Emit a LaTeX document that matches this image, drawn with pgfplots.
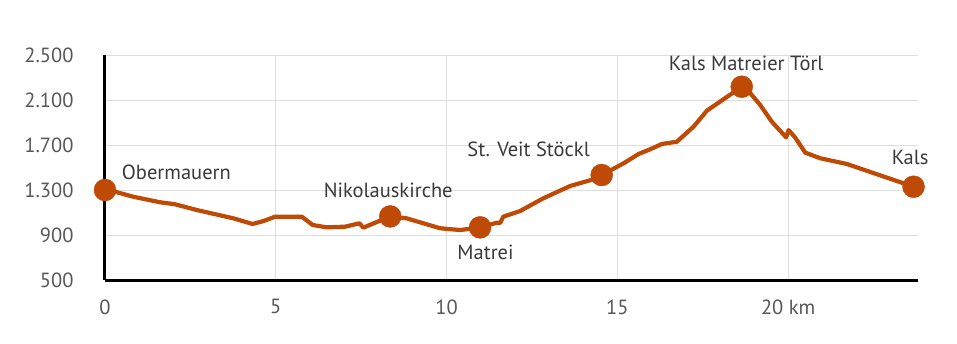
\documentclass[border=0pt]{standalone}
\usepackage{pgfplots}
\pgfplotsset{compat=1.18}
\usepackage{fontspec}
\setmainfont{PT Sans}
\definecolor{route}{HTML}{BF4A06}
\definecolor{gridc}{HTML}{DEDEDE}
\definecolor{txt}{HTML}{3A3A3A}
\tikzset{lbl/.style={txt, anchor=base, inner sep=0pt, font=\fontsize{20.5}{24}\selectfont}}
\begin{document}
\begin{tikzpicture}[x=1pt,y=1pt]
\path[use as bounding box] (-105,-63) rectangle (852,280);
\begin{axis}[
  scale only axis, width=813pt, height=225pt,
  xmin=0, xmax=23.8, ymin=500, ymax=2500,
  axis x line=bottom, axis y line=left,
  axis line style={line width=3pt, -},
  xtick={0,5,10,15,20}, xticklabels={0,5,10,15,20 km},
  ytick={500,900,1300,1700,2100,2500},
  yticklabels={500,900,1.300,1.700,2.100,2.500},
  major tick length=0pt,
  grid=major, grid style={gridc, line width=0.8pt},
  tick label style={font=\fontsize{20.5}{24}\selectfont, text=txt!85},
  yticklabel style={xshift=-28pt},
  xticklabel style={yshift=-16pt},
  clip=false,
]
\addplot[route, line width=4.2pt, line join=round, no marks] coordinates {
(0,1300) (0.29,1285) (0.83,1240) (1.61,1191) (2.05,1173) (2.69,1122)
(3.76,1048) (4.32,998) (4.64,1024) (4.98,1063) (5.76,1063) (6.08,989)
(6.49,968) (7.03,974) (7.45,1004) (7.56,965) (8.05,1027) (8.35,1065)
(8.83,1048) (9.81,960) (10.40,944) (10.98,968) (11.47,1009) (11.57,1009)
(11.66,1063) (12.15,1113) (12.83,1226) (13.62,1336) (14.30,1395) (14.54,1433)
(15.18,1537) (15.62,1620) (15.96,1662) (16.30,1709) (16.74,1729) (17.23,1863)
(17.62,2005) (18.64,2218) (18.89,2160) (19.18,2056) (19.52,1907) (19.94,1768)
(20.01,1833) (20.20,1768) (20.50,1632) (20.94,1582) (21.72,1531) (23.67,1329)
};
\addplot[only marks, mark=*, mark size=11pt, color=route] coordinates {
(0,1300) (8.35,1065) (10.98,968) (14.54,1433) (18.64,2218) (23.67,1329)
};
\node[lbl] at (axis cs:2.09,1389) {Obermauern};
\node[lbl] at (axis cs:8.29,1229) {Nikolauskirche};
\node[lbl] at (axis cs:11.14,684) {Matrei};
\node[lbl] at (axis cs:12.40,1602) {St. Veit Stöckl};
\node[lbl] at (axis cs:18.77,2358) {Kals Matreier Törl};
\node[lbl] at (axis cs:23.57,1528) {Kals};
\end{axis}
\end{tikzpicture}
\end{document}
